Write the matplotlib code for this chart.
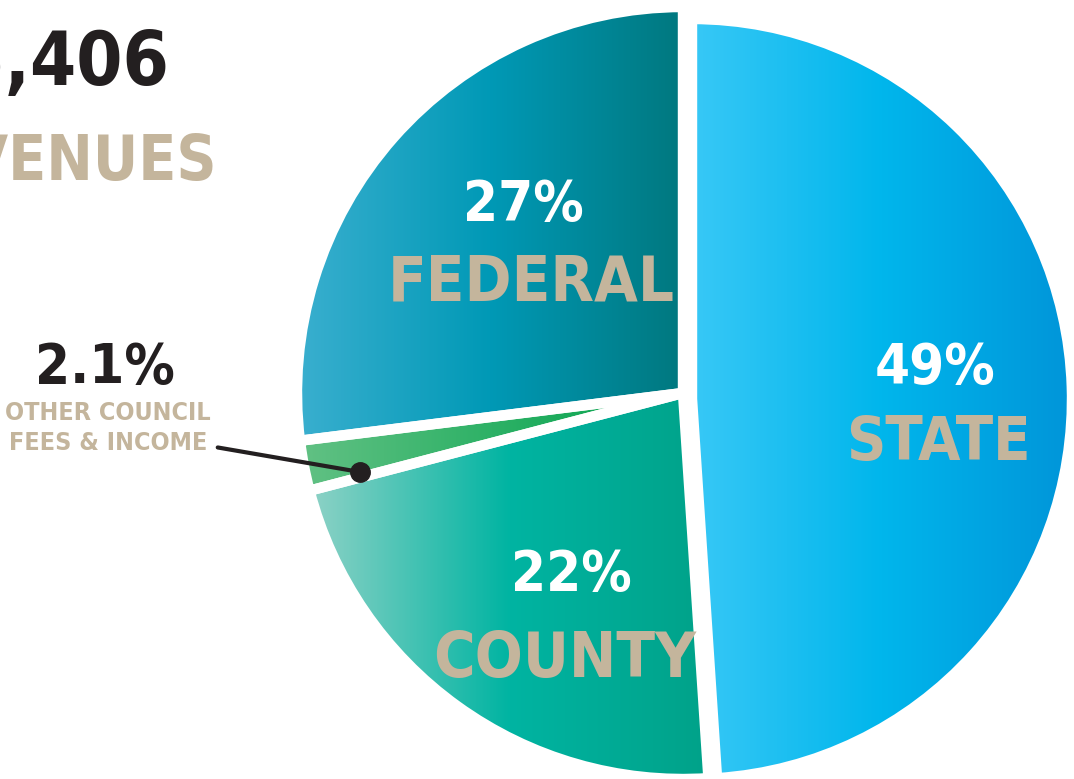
import numpy as np
import matplotlib
matplotlib.use("Agg")
import matplotlib.pyplot as plt
from matplotlib import font_manager
from matplotlib.colors import LinearSegmentedColormap

# data
labels = ["STATE", "COUNTY", "OTHER COUNCIL\nFEES & INCOME", "FEDERAL"]
shares = [49, 22, 2.1, 27]
pct_text = ["49%", "22%", "2.1%", "27%"]
# left / middle / right colour of each slice's gradient
grad = [["#38c8f6", "#00b6ec", "#0095d9"],
        ["#8ed2c6", "#00b4a2", "#00a289"],
        ["#62c184", "#2db166", "#00a14a"],
        ["#3aafcf", "#0099b6", "#00787f"]]

W, H = 1074, 779
BEIGE = "#c4b59c"
DARK = "#231f20"

names = {f.name for f in font_manager.fontManager.ttflist}
if "Liberation Sans Narrow" in names:
    FONT = dict(family="Liberation Sans Narrow", weight="bold")
else:
    FONT = dict(family="DejaVu Sans", weight="bold", stretch="condensed")

fig = plt.figure(figsize=(W / 100, H / 100), dpi=100)
ax = fig.add_axes([0, 0, 1, 1])

# pie geometry in pixels (from top-left), converted to unit radius coords
cx, cy, R = 683, 393, 386
wedges, _ = ax.pie(shares, startangle=90, counterclock=False, radius=1,
                   wedgeprops=dict(edgecolor="white", linewidth=7.5,
                                   facecolor="none", zorder=3))
# state slice sits a bit apart from the rest
wedges[0].set_center((9 / R, -6 / R))
wedges[0].set_radius(380 / R)

for w, cols in zip(wedges, grad):
    ext = w.get_path().get_extents()
    cmap = LinearSegmentedColormap.from_list("g", cols)
    im = ax.imshow(np.linspace(0, 1, 256).reshape(1, -1), cmap=cmap,
                   extent=[ext.x0, ext.x1, ext.y0, ext.y1],
                   aspect="auto", zorder=1, interpolation="bilinear")
    im.set_clip_path(w)

ax.set_xlim(-cx / R, (W - cx) / R)
ax.set_ylim((cy - H) / R, cy / R)
ax.set_aspect("auto")
ax.axis("off")


def pt(px):
    return px * 0.72


def put(x, y, s, size, color, ha="center"):
    fig.text(x / W, 1 - y / H, s, fontsize=pt(size), color=color,
             ha=ha, va="baseline", **FONT)


# slice labels (baseline positions in pixels)
put(523, 220, pct_text[3], 56, "white")
put(531, 300, labels[3], 63, BEIGE)
put(935, 383, pct_text[0], 56, "white")
put(938, 460, labels[0], 61, BEIGE)
put(571, 590, pct_text[1], 56, "white")
put(565, 677, labels[1], 63, BEIGE)

# small slice callout
put(105, 383, pct_text[2], 56, DARK)
put(108, 420, "OTHER COUNCIL", 25, BEIGE)
put(108, 450, "FEES & INCOME", 25, BEIGE)
ax.annotate("", xy=((360 - cx) / R, (cy - 472) / R),
            xytext=((215 - cx) / R, (cy - 447) / R),
            arrowprops=dict(arrowstyle="-", color=DARK, lw=3))
ax.plot([(360 - cx) / R], [(cy - 472) / R], "o", color=DARK, ms=14, zorder=5)

# headline, cut off on the left edge as in the original layout
put(170, 85, "$5,406", 74, DARK, ha="right")
put(218, 180, "REVENUES", 62, BEIGE, ha="right")

fig.savefig("out.png", dpi=100)
